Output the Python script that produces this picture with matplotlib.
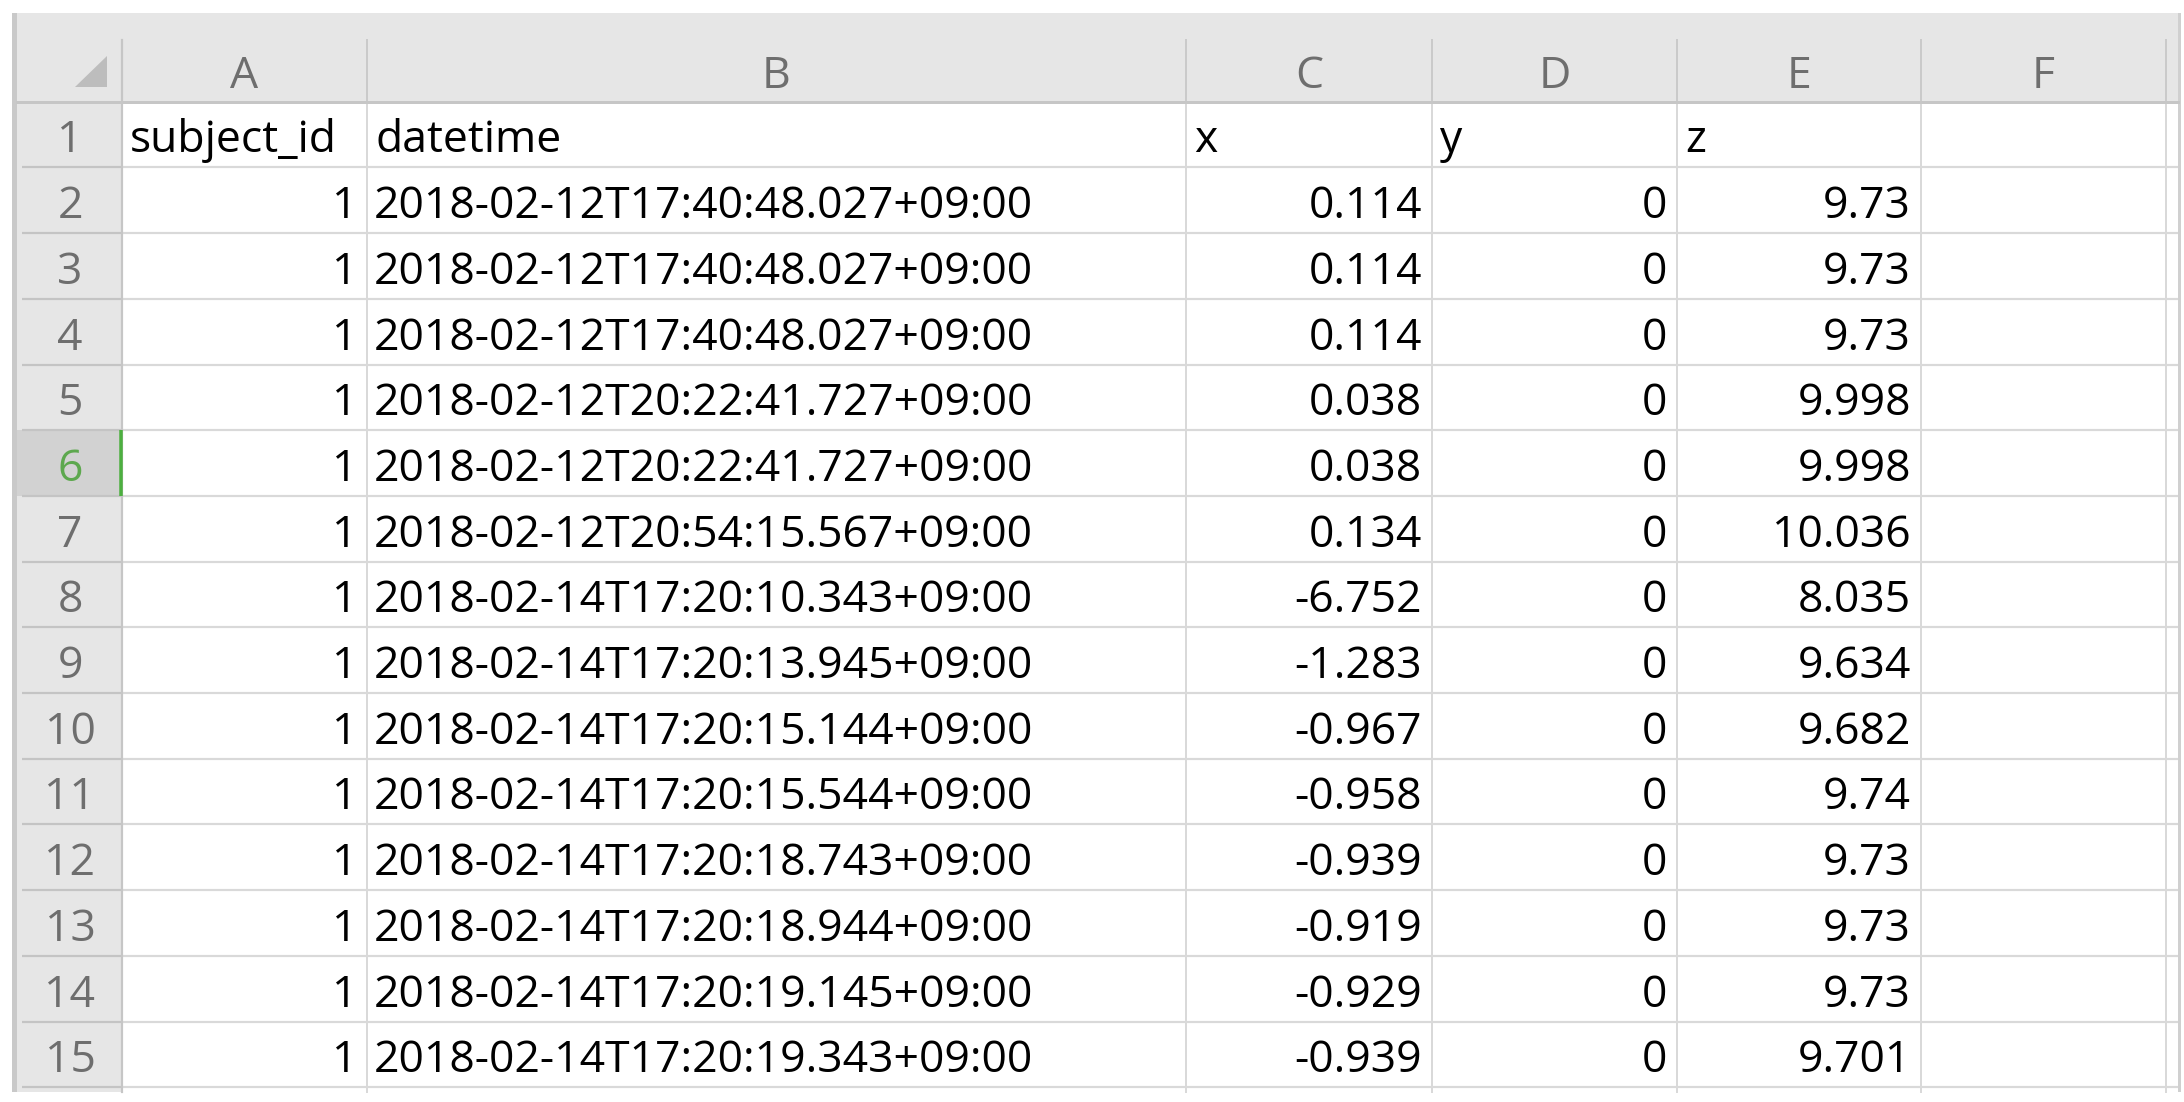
import matplotlib.pyplot as plt
from matplotlib.patches import Rectangle, Polygon

# sheet content
col_letters = ['A', 'B', 'C', 'D', 'E', 'F']
headers = ['subject_id', 'datetime', 'x', 'y', 'z']
subject_id = [1, 1, 1, 1, 1, 1, 1, 1, 1, 1, 1, 1, 1, 1]
datetimes = ['2018-02-12T17:40:48.027+09:00', '2018-02-12T17:40:48.027+09:00',
             '2018-02-12T17:40:48.027+09:00', '2018-02-12T20:22:41.727+09:00',
             '2018-02-12T20:22:41.727+09:00', '2018-02-12T20:54:15.567+09:00',
             '2018-02-14T17:20:10.343+09:00', '2018-02-14T17:20:13.945+09:00',
             '2018-02-14T17:20:15.144+09:00', '2018-02-14T17:20:15.544+09:00',
             '2018-02-14T17:20:18.743+09:00', '2018-02-14T17:20:18.944+09:00',
             '2018-02-14T17:20:19.145+09:00', '2018-02-14T17:20:19.343+09:00']
x_vals = [0.114, 0.114, 0.114, 0.038, 0.038, 0.134, -6.752, -1.283, -0.967,
          -0.958, -0.939, -0.919, -0.929, -0.939]
y_vals = [0, 0, 0, 0, 0, 0, 0, 0, 0, 0, 0, 0, 0, 0]
z_vals = [9.73, 9.73, 9.73, 9.998, 9.998, 10.036, 8.035, 9.634, 9.682,
          9.74, 9.73, 9.73, 9.73, 9.701]
selected_row = 6

W, H = 2184, 1102
col_edges = [122, 367, 1186, 1432, 1677, 1921, 2166]
head_top, head_bot, row_h = 13, 101.7, 65.7
n_rows = 15
bottom = 1092

FONT = ['Open Sans', 'DejaVu Sans']
FS = 32
TXT = '#000000'
px = 0.72  # one pixel in points

fig = plt.figure(figsize=(W / 100, H / 100), dpi=100)
ax = fig.add_axes([0, 0, 1, 1])
ax.set_xlim(0, W)
ax.set_ylim(H, 0)
ax.axis('off')

# grey frame: column header strip and row header column
ax.add_patch(Rectangle((12, head_top), W - 16, head_bot - head_top, color='#E6E6E6', lw=0))
ax.add_patch(Rectangle((12, head_top), col_edges[0] - 12, bottom - head_top, color='#E6E6E6', lw=0))
ax.add_patch(Rectangle((12, head_top), 5, bottom - head_top, color='#C9C9C9', lw=0))
ax.add_patch(Rectangle((W - 6, head_top), 3, bottom - head_top, color='#D0D0D0', lw=0))

# selected row header
sel_top = head_bot + (selected_row - 1) * row_h
ax.add_patch(Rectangle((17, sel_top), col_edges[0] - 17, row_h, color='#D2D2D2', lw=0))

# corner triangle
ax.add_patch(Polygon([(107, 56), (107, 87), (75, 87)], closed=True, color='#BDBDBD', lw=0))

# grid lines in the cell area
for i in range(1, n_rows + 2):
    yb = head_bot + i * row_h
    ax.plot([col_edges[0], W - 6], [yb, yb], color='#D9D9D9', lw=2.2 * px, solid_capstyle='butt')
    ax.plot([22, col_edges[0]], [yb, yb], color='#C4C4C4', lw=2.2 * px, solid_capstyle='butt')
for xe in col_edges[1:]:
    ax.plot([xe, xe], [head_bot, bottom], color='#D9D9D9', lw=2 * px)
    ax.plot([xe, xe], [40, head_bot], color='#CACACA', lw=2 * px)
ax.plot([col_edges[0], col_edges[0]], [40, bottom], color='#C6C6C6', lw=2.2 * px)
ax.plot([17, W - 6], [head_bot, head_bot], color='#C6C6C6', lw=3 * px)

# green marker of the active cell
ax.plot([col_edges[0] - 1.5, col_edges[0] - 1.5], [sel_top, sel_top + row_h],
        color='#4CAF3F', lw=3.5 * px, solid_capstyle='butt')

# column letters
for j, letter in enumerate(col_letters):
    xc = (col_edges[j] + col_edges[j + 1]) / 2
    ax.text(xc, head_bot - 14, letter, ha='center', va='baseline',
            fontsize=FS, color='#6E6E6E', family=FONT)

# row numbers
for i in range(1, n_rows + 1):
    yb = head_bot + i * row_h - 15
    ax.text(70, yb, str(i), ha='center', va='baseline', fontsize=FS,
            color='#5DA84E' if i == selected_row else '#6E6E6E', family=FONT)

# header row (left aligned)
for j, h in enumerate(headers):
    ax.text(col_edges[j] + 8, head_bot + row_h - 15, h, ha='left', va='baseline',
            fontsize=FS, color=TXT, family=FONT)

# data rows
for i in range(len(datetimes)):
    yb = head_bot + (i + 2) * row_h - 15
    ax.text(col_edges[1] - 10, yb, str(subject_id[i]), ha='right', va='baseline',
            fontsize=FS, color=TXT, family=FONT)
    ax.text(col_edges[1] + 7, yb, datetimes[i], ha='left', va='baseline',
            fontsize=FS, color=TXT, family=FONT)
    ax.text(col_edges[3] - 10, yb, str(x_vals[i]), ha='right', va='baseline',
            fontsize=FS, color=TXT, family=FONT)
    ax.text(col_edges[4] - 10, yb, str(y_vals[i]), ha='right', va='baseline',
            fontsize=FS, color=TXT, family=FONT)
    ax.text(col_edges[5] - 10, yb, str(z_vals[i]), ha='right', va='baseline',
            fontsize=FS, color=TXT, family=FONT)

fig.savefig('out.png', dpi=100, facecolor='white')
